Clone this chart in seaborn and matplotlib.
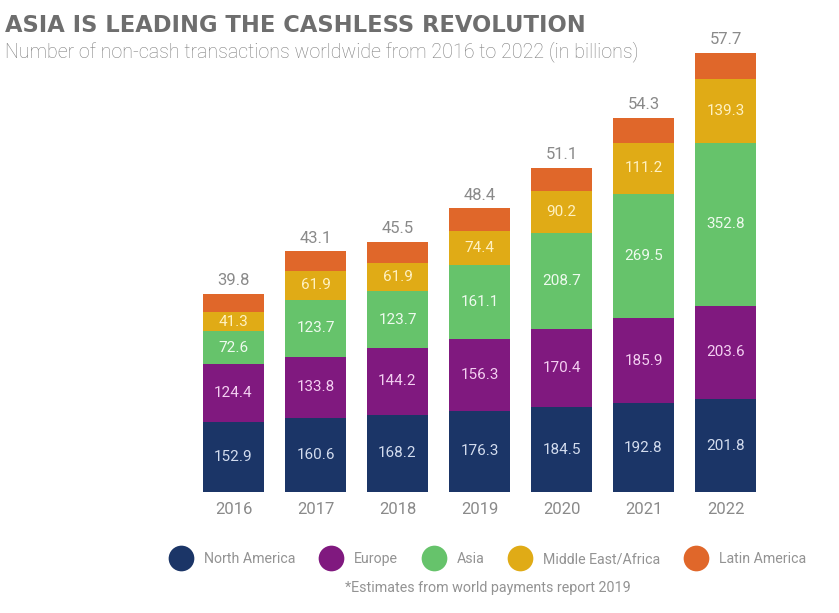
import matplotlib
matplotlib.use("Agg")
import numpy as np
import pandas as pd
import seaborn as sns
import matplotlib.pyplot as plt
from matplotlib.lines import Line2D

# data (billions of non-cash transactions)
years = ["2016", "2017", "2018", "2019", "2020", "2021", "2022"]
north_america = [152.9, 160.6, 168.2, 176.3, 184.5, 192.8, 201.8]
europe = [124.4, 133.8, 144.2, 156.3, 170.4, 185.9, 203.6]
asia = [72.6, 123.7, 123.7, 161.1, 208.7, 269.5, 352.8]
middle_east_africa = [41.3, 61.9, 61.9, 74.4, 90.2, 111.2, 139.3]
latin_america = [39.8, 43.1, 45.5, 48.4, 51.1, 54.3, 57.7]

regions = ["North America", "Europe", "Asia", "Middle East/Africa", "Latin America"]
colors = ["#1b3567", "#80197f", "#66c36b", "#e0ab16", "#e0672a"]
label_colors = ["#d3dcee", "#f3cff1", "#eefaee", "#fff1c2", None]

df = pd.DataFrame({"year": years,
                   "North America": north_america,
                   "Europe": europe,
                   "Asia": asia,
                   "Middle East/Africa": middle_east_africa,
                   "Latin America": latin_america})

# cumulative stacks
cum = df[regions].cumsum(axis=1)

sns.set_style("white")
plt.rcParams["font.family"] = ["Roboto", "DejaVu Sans"]

fig = plt.figure(figsize=(8.39, 6.13), dpi=100)
W, H = 839, 613
ax = fig.add_axes([150 / W, (H - 492) / H, 660 / W, 460 / H])

# draw tallest stack first, then smaller cumulative sums on top
for i in range(len(regions) - 1, -1, -1):
    sns.barplot(x=df["year"], y=cum[regions[i]], color=colors[i], saturation=1,
                width=0.744, linewidth=0, ax=ax, order=years)

ax.set_xlim((150 - 233.5) / 82, (810 - 233.5) / 82)
ax.set_ylim(0, 1000)
ax.set_xlabel("")
ax.set_ylabel("")
ax.set_yticks([])
ax.tick_params(axis="x", length=0, pad=7, labelsize=12, labelcolor="#8a8a8a")
for s in ax.spines.values():
    s.set_visible(False)

# segment labels
for j in range(len(years)):
    bottom = 0
    for i, r in enumerate(regions[:-1]):
        v = df[r][j]
        ax.text(j, bottom + v / 2, f"{v:.1f}", ha="center", va="center",
                fontsize=11, color=label_colors[i])
        bottom += v
    ax.annotate(f"{latin_america[j]:.1f}", (j, cum["Latin America"][j]),
                xytext=(0, 4), textcoords="offset points", ha="center", va="bottom",
                fontsize=12, color="#8a8a8a")

# titles
fig.text(5 / W, 1 - 32 / H, "ASIA IS LEADING THE CASHLESS REVOLUTION",
         fontsize=16.3, fontweight="bold", color="#6e6e6e", va="baseline",
         family=["DejaVu Sans"])
fig.text(5 / W, 1 - 57 / H,
         "Number of non-cash transactions worldwide from 2016 to 2022 (in billions)",
         fontsize=14.1, fontweight="light", color="#7d7d7d", va="baseline")

# legend
handles = [Line2D([], [], marker="o", linestyle="", markersize=18.5,
                  markerfacecolor=c, markeredgewidth=0) for c in colors]
fig.legend(handles, regions, loc="center", bbox_to_anchor=(487 / W, 1 - 559 / H),
           ncol=5, frameon=False, fontsize=10.2, labelcolor="#939393",
           handlelength=1.85, handletextpad=0.7, columnspacing=1.6)

fig.text(487.5 / W, 1 - 588 / H, "*Estimates from world payments report 2019",
         ha="center", va="center", fontsize=10.3, color="#939393")

fig.savefig("out.png", dpi=100)
